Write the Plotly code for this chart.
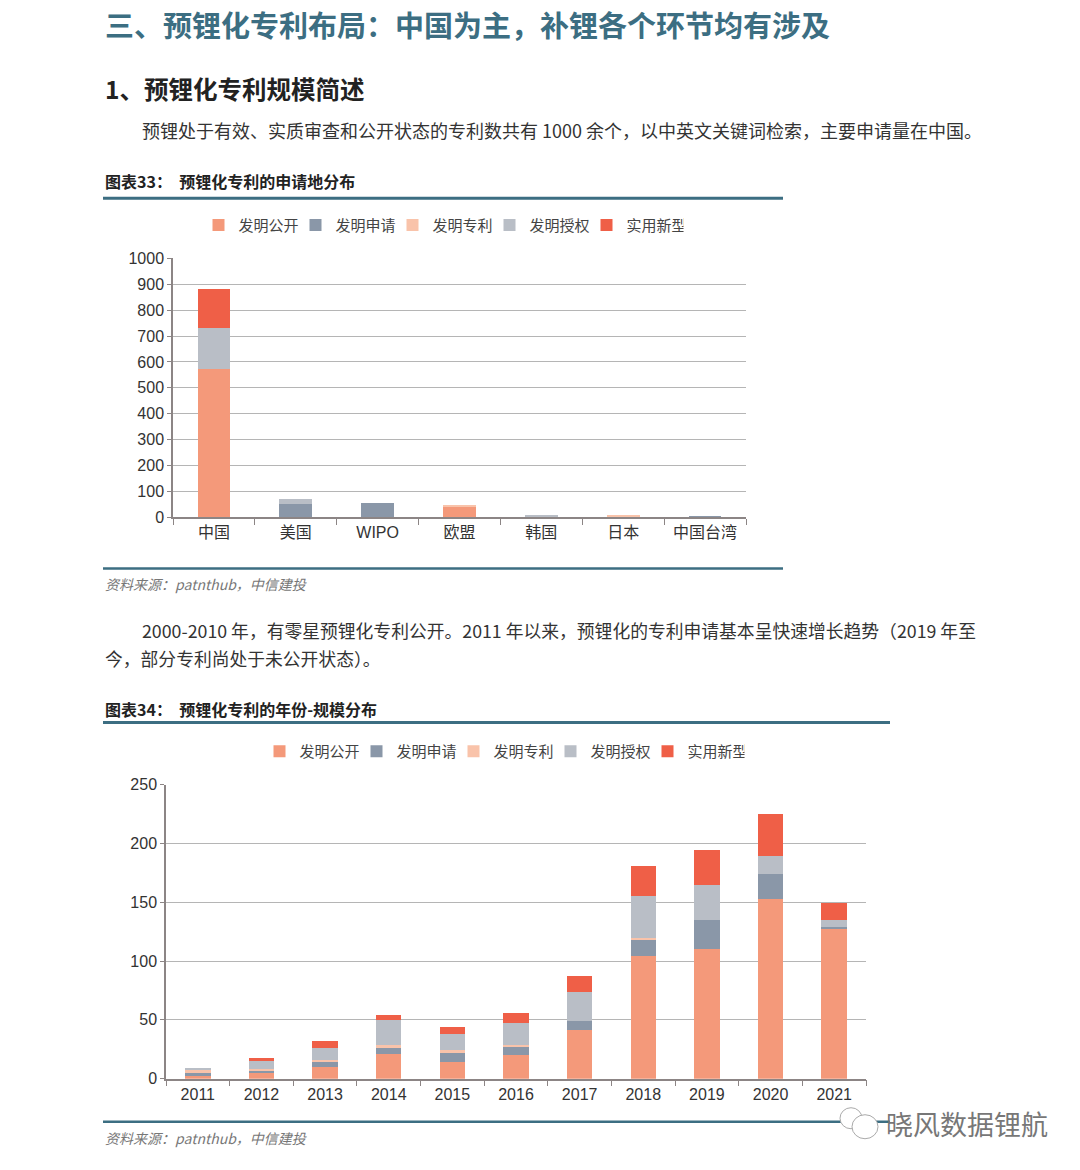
import plotly.graph_objects as go

# 图表33：申请地分布
regions = ["中国", "美国", "WIPO", "欧盟", "韩国", "日本", "中国台湾"]
region_gongkai = [572, 0, 0, 40, 3, 2, 0]
region_shenqing = [0, 53, 54, 0, 0, 0, 1]
region_zhuanli = [0, 0, 0, 3, 0, 6, 0]
region_shouquan = [160, 19, 0, 0, 8, 0, 0]
region_xinxing = [148, 0, 0, 0, 0, 0, 0]

# 图表34：年份分布
years = ["2011", "2012", "2013", "2014", "2015", "2016", "2017", "2018", "2019", "2020", "2021"]
year_gongkai = [2, 6, 10, 21, 14, 20, 41, 104, 110, 153, 128]
year_shenqing = [4, 1, 5, 5, 8, 7, 8, 14, 25, 21, 1]
year_zhuanli = [1, 1, 1, 3, 2, 2, 0, 2, 0, 0, 0]
year_shouquan = [2, 7, 10, 21, 14, 18, 25, 35, 30, 15, 6]
year_xinxing = [0, 3, 6, 4, 6, 9, 13, 26, 29, 36, 14]

series_names = ["发明公开", "发明申请", "发明专利", "发明授权", "实用新型"]
colors = ["#F4997A", "#8A97A8", "#F9C3AA", "#B9BEC6", "#EF5F47"]

W, H = 1080, 1170
CJK = "Noto Sans CJK SC"
SANS = "Liberation Sans"
TEAL = "#3C6E82"


def px(x):
    return x / W


def py(y):
    # the page photo comes out slightly squeezed vertically, compensate
    return 1 - ((y - 7.8) / 0.985) / H


fig = go.Figure()

region_series = [region_gongkai, region_shenqing, region_zhuanli, region_shouquan, region_xinxing]
for name, vals, c in zip(series_names, region_series, colors):
    fig.add_trace(go.Bar(x=regions, y=vals, name=name, marker=dict(color=c, line=dict(width=0)),
                         xaxis="x", yaxis="y", legend="legend"))

year_series = [year_gongkai, year_shenqing, year_zhuanli, year_shouquan, year_xinxing]
for name, vals, c in zip(series_names, year_series, colors):
    fig.add_trace(go.Bar(x=years, y=vals, name=name, marker=dict(color=c, line=dict(width=0)),
                         xaxis="x2", yaxis="y2", legend="legend2"))

axis_common = dict(showline=True, linecolor="#8C8585", linewidth=1.5, ticks="outside",
                   tickcolor="#8C8585", tickfont=dict(family=SANS + ", " + CJK, size=16, color="#333333"))
legend_common = dict(orientation="h", xanchor="center", yanchor="middle", traceorder="normal",
                     font=dict(family=CJK, size=15, color="#444444"), itemwidth=30,
                     entrywidth=52, entrywidthmode="pixels", bgcolor="rgba(0,0,0,0)")

fig.update_layout(
    width=W, height=H,
    margin=dict(l=0, r=0, t=0, b=0),
    paper_bgcolor="white", plot_bgcolor="white",
    barmode="stack", bargap=0.6,
    font=dict(family=CJK, color="#333333"),
    xaxis=dict(domain=[px(173), px(746)], anchor="y", tickson="boundaries", ticklen=6,
               showgrid=False, **axis_common),
    yaxis=dict(domain=[py(517), py(258)], anchor="x", range=[0, 1000], dtick=100, ticklen=4,
               showgrid=True, gridcolor="#B5B5B5", gridwidth=1, zeroline=False, **axis_common),
    xaxis2=dict(domain=[px(166), px(866)], anchor="y2", tickson="boundaries", ticklen=6,
                showgrid=False, **axis_common),
    yaxis2=dict(domain=[py(1078), py(784)], anchor="x2", range=[0, 250], dtick=50, ticklen=4,
                showgrid=True, gridcolor="#B5B5B5", gridwidth=1, zeroline=False, **axis_common),
    legend=dict(x=px(441), y=py(225), **legend_common),
    legend2=dict(x=px(502), y=py(751), **legend_common),
)

texts = [
    (103, 24, "<b>三、预锂化专利布局：中国为主，补锂各个环节均有涉及</b>", 29, TEAL, False),
    (103, 88, "<b>1、预锂化专利规模简述</b>", 24.5, "#222222", False),
    (140, 130, "预锂处于有效、实质审查和公开状态的专利数共有 1000 余个，以中英文关键词检索，主要申请量在中国。", 18, "#333333", False),
    (103, 181, "<b>图表33：  预锂化专利的申请地分布</b>", 16, "#222222", False),
    (103, 584, "资料来源：patnthub，中信建投", 14, "#777777", True),
    (140, 630, "2000-2010 年，有零星预锂化专利公开。2011 年以来，预锂化的专利申请基本呈快速增长趋势（2019 年至", 17.8, "#333333", False),
    (103, 657, "今，部分专利尚处于未公开状态）。", 17.8, "#333333", False),
    (103, 708, "<b>图表34：  预锂化专利的年份-规模分布</b>", 16, "#222222", False),
    (103, 1137, "资料来源：patnthub，中信建投", 14, "#777777", True),
]
for x, y, t, size, col, ital in texts:
    fig.add_annotation(x=px(x), y=py(y), xref="paper", yref="paper", xanchor="left", yanchor="middle",
                       text="<i>" + t + "</i>" if ital else t, showarrow=False,
                       font=dict(family=CJK, size=size, color=col))

# section rules
for x0, x1, y, w in [(103, 783, 198, 3), (103, 783, 568, 2.5), (103, 890, 722, 3), (103, 890, 1121, 2.5)]:
    fig.add_shape(type="line", xref="paper", yref="paper", x0=px(x0), x1=px(x1), y0=py(y), y1=py(y),
                  line=dict(color=TEAL, width=w))

# watermark
fig.add_shape(type="circle", xref="paper", yref="paper", x0=px(840), x1=px(862), y0=py(1128), y1=py(1107),
              line=dict(color="#AAAAAA", width=1), fillcolor="white")
fig.add_shape(type="circle", xref="paper", yref="paper", x0=px(852), x1=px(878), y0=py(1138), y1=py(1114),
              line=dict(color="#AAAAAA", width=1), fillcolor="white")
fig.add_annotation(x=px(884), y=py(1123), xref="paper", yref="paper", xanchor="left", yanchor="middle",
                   text="晓风数据锂航", showarrow=False, font=dict(family=CJK, size=27, color="#777777"))

fig.write_html("out.html", config={"displayModeBar": False},
               post_script="document.body.style.margin='0';")
